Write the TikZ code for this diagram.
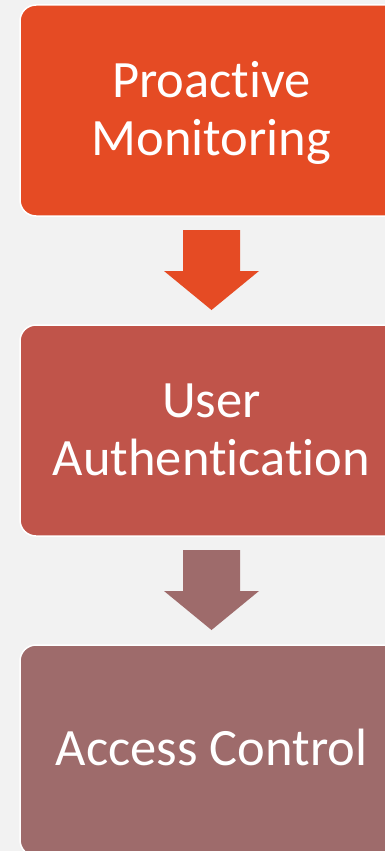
\documentclass[tikz,border=0pt]{standalone}
\usepackage{fontspec}
\setmainfont[Ligatures={NoCommon,NoContextual}]{Carlito}
\definecolor{bg}{HTML}{F2F2F2}
\definecolor{cone}{HTML}{E54B24}
\definecolor{ctwo}{HTML}{C0544A}
\definecolor{cthree}{HTML}{9E6B6B}
\begin{document}
\begin{tikzpicture}[x=1pt,y=-1pt,
  stagebox/.style={draw=white, line width=1.5pt, rounded corners=16pt, minimum width=383pt, minimum height=211pt, inner sep=0pt},
  stagetext/.style={text=white, font=\fontsize{52.5}{58}\selectfont, anchor=base, inner sep=0pt},
  blockarrow/.style={draw=none}]
\useasboundingbox (0,0) rectangle (385,851);
\fill[bg] (0,0) rectangle (385,851);
\clip (0,0) rectangle (385,851);
\node[stagebox, fill=cone] (b1) at (211.5,110.5) {};
\node[stagebox, fill=ctwo] (b2) at (211.5,430.5) {};
\node[stagebox, fill=cthree] (b3) at (211.5,750.5) {};
\node[stagetext] (t1a) at (211.5,97) {Proactive};
\node[stagetext] (t1b) at (211.5,155) {Monitoring};
\node[stagetext] (t2a) at (211.5,417) {User};
\node[stagetext] (t2b) at (211.5,475) {Authentication};
\node[stagetext] (t3) at (211.5,765) {Access Control};
\fill[cone] (183,230) -- (240,230) -- (240,271) -- (259,271) -- (211.5,310) -- (164,271) -- (183,271) -- cycle;
\fill[cthree] (183,550) -- (240,550) -- (240,591) -- (259,591) -- (211.5,630) -- (164,591) -- (183,591) -- cycle;
\end{tikzpicture}
\end{document}
